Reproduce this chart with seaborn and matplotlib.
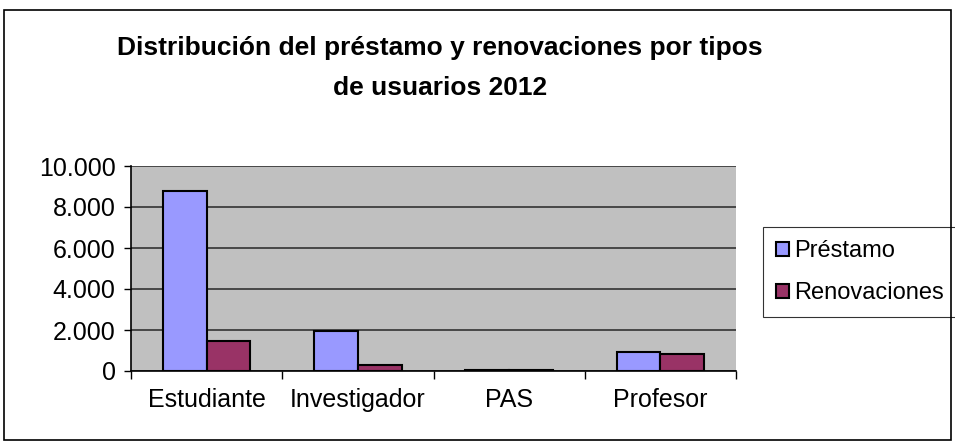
import seaborn as sns
import matplotlib.pyplot as plt
import matplotlib.ticker as mticker
import pandas as pd

categorias = ["Estudiante", "Investigador", "PAS", "Profesor"]
prestamo = [8800, 1950, 60, 910]
renovaciones = [1480, 290, 40, 815]
series = ["Préstamo", "Renovaciones"]

df = pd.DataFrame({
    "tipo": categorias * 2,
    "serie": [series[0]] * 4 + [series[1]] * 4,
    "valor": prestamo + renovaciones,
})

sns.set_style("white")
plt.rcParams["font.family"] = ["Liberation Sans", "DejaVu Sans"]
plt.rcParams["text.color"] = "black"
plt.rcParams["xtick.color"] = "black"
plt.rcParams["ytick.color"] = "black"

fig = plt.figure(figsize=(9.55, 4.46), dpi=100)
ax = fig.add_axes([131 / 955, 1 - 371 / 446, (736 - 131) / 955, (371 - 166) / 446])

sns.barplot(data=df, x="tipo", y="valor", hue="serie", palette=["#9999FF", "#993366"],
            saturation=1, width=0.58, edgecolor="black", linewidth=1.5, ax=ax, zorder=3)

ax.set_facecolor("#C0C0C0")
ax.set_ylim(0, 10000)
ax.set_xlim(-0.5, 3.5)
ax.yaxis.set_major_locator(mticker.MultipleLocator(2000))
ax.yaxis.set_major_formatter(mticker.FuncFormatter(lambda v, p: f"{int(v):,}".replace(",", ".")))
ax.yaxis.grid(True, color="#333333", linewidth=1.2, zorder=0)
ax.set_axisbelow(True)
ax.set_xlabel("")
ax.set_ylabel("")
ax.set_xticks([-0.5, 0.5, 1.5, 2.5, 3.5], minor=False)
ax.set_xticklabels([])
ax.set_xticks([0, 1, 2, 3], minor=True)
ax.set_xticklabels(categorias, minor=True, fontsize=18)
ax.tick_params(axis="x", which="major", length=6, width=1, color="black", direction="out")
ax.tick_params(axis="x", which="minor", length=0, pad=12, labelcolor="black")
ax.tick_params(axis="y", length=5, width=1, color="black", direction="out", labelsize=18, pad=6,
               labelcolor="black")
ax.yaxis.tick_left()
ax.xaxis.tick_bottom()
for side in ["top", "right"]:
    ax.spines[side].set_visible(False)
for side in ["left", "bottom"]:
    ax.spines[side].set_color("black")
    ax.spines[side].set_linewidth(1.2)

leg = ax.legend(loc="upper left", bbox_to_anchor=(763 / 955, 1 - 227 / 446), bbox_transform=fig.transFigure,
                fontsize=17, frameon=True, fancybox=False, edgecolor="black", handlelength=0.55,
                handleheight=0.55, handletextpad=0.2, borderpad=0.55, labelspacing=0.85,
                borderaxespad=0)
leg.get_frame().set_linewidth(0.8)
for t in leg.get_texts():
    t.set_color("black")

fig.text(440 / 955, 1 - 48 / 446, "Distribución del préstamo y renovaciones por tipos",
         ha="center", va="center", fontsize=19, fontweight="bold")
fig.text(440 / 955, 1 - 88 / 446, "de usuarios 2012",
         ha="center", va="center", fontsize=19, fontweight="bold")

fig.patches.append(plt.Rectangle((4 / 955, 6 / 446), 947 / 955, 430 / 446, transform=fig.transFigure,
                                 fill=False, edgecolor="black", linewidth=1.2))

fig.savefig("out.png", dpi=100)
